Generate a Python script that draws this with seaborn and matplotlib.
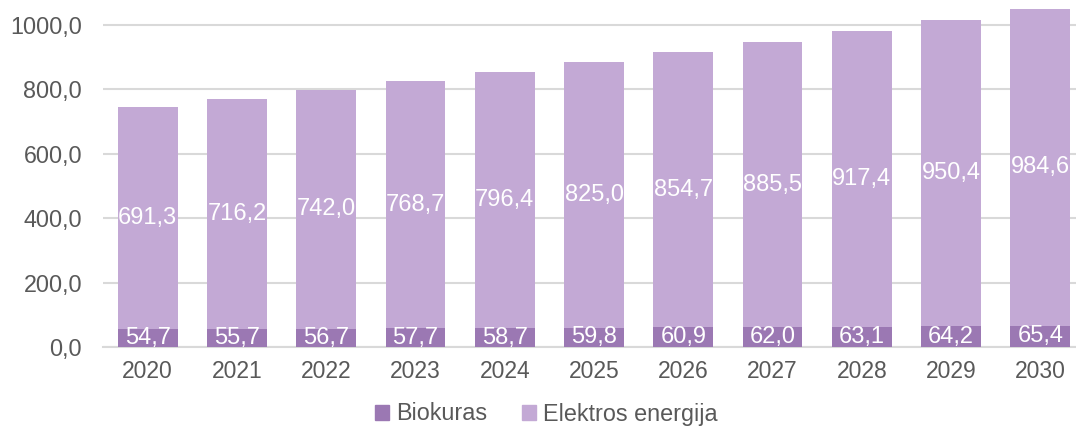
import matplotlib
matplotlib.use("Agg")
import matplotlib.pyplot as plt
import seaborn as sns
import pandas as pd
from matplotlib.patches import Patch

years = ["2020", "2021", "2022", "2023", "2024", "2025", "2026", "2027", "2028", "2029", "2030"]
biokuras = [54.7, 55.7, 56.7, 57.7, 58.7, 59.8, 60.9, 62.0, 63.1, 64.2, 65.4]
elektros = [691.3, 716.2, 742.0, 768.7, 796.4, 825.0, 854.7, 885.5, 917.4, 950.4, 984.6]
yticks = [0, 200, 400, 600, 800, 1000]

c_bio = "#9B78B3"
c_el = "#C3A9D5"
txt = "#595959"

sns.set_theme(style="white")
plt.rcParams['font.family'] = ['Arial', 'Liberation Sans', 'DejaVu Sans']

df = pd.DataFrame({"year": years, "bio": biokuras, "el": elektros})
df["total"] = df["bio"] + df["el"]

fig = plt.figure(figsize=(10.76, 4.26), dpi=100)
ax = fig.add_axes([103/1076, 79/426, 982/1076, 338/426])

sns.barplot(data=df, x="year", y="total", color=c_el, width=0.67, ax=ax, saturation=1,
            linewidth=0, zorder=2)
sns.barplot(data=df, x="year", y="bio", color=c_bio, width=0.67, ax=ax, saturation=1,
            linewidth=0, zorder=3)

for i, (b, e) in enumerate(zip(biokuras, elektros)):
    ax.text(i, b / 2, f"{b:.1f}".replace(".", ","), ha="center", va="center",
            color="white", fontsize=17, zorder=4)
    ax.text(i, b + e / 2, f"{e:.1f}".replace(".", ","), ha="center", va="center",
            color="white", fontsize=17, zorder=4)

ax.set_ylim(0, 1050)
ax.set_xlim(-0.5, 10.5)
ax.set_yticks(yticks)
ax.set_yticklabels([f"{v:.1f}".replace(".", ",") for v in yticks], color=txt, fontsize=16.8)
ax.tick_params(axis="x", colors=txt, labelsize=16.5, length=0, pad=9)
ax.tick_params(axis="y", length=0, pad=15)
ax.set_xlabel("")
ax.set_ylabel("")
ax.yaxis.grid(True, color="#D9D9D9", linewidth=1.5, zorder=0)
ax.set_axisbelow(True)
for s in ["top", "right", "left"]:
    ax.spines[s].set_visible(False)
ax.spines["bottom"].set_color("#D9D9D9")
ax.spines["bottom"].set_linewidth(1.5)

handles = [Patch(color=c_bio, label="Biokuras"), Patch(color=c_el, label="Elektros energija")]
fig.legend(handles=handles, loc="center", bbox_to_anchor=(546/1076, 12/426), ncol=2, frameon=False,
           fontsize=16.8, labelcolor=txt, handlelength=0.6, handleheight=0.6, handletextpad=0.3,
           columnspacing=1.5, borderpad=0)

fig.savefig("out.png", dpi=100)
